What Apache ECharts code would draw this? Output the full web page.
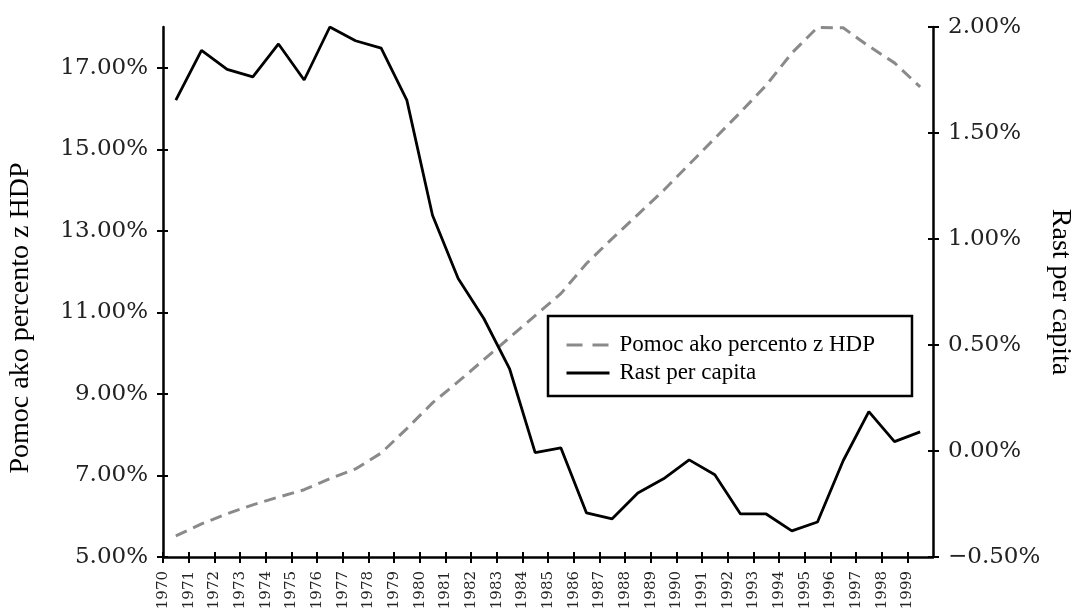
<!DOCTYPE html>
<html>
<head>
<meta charset="utf-8">
<script src="https://cdn.jsdelivr.net/npm/echarts@6/dist/echarts.min.js"></script>
<style>
html, body { margin: 0; padding: 0; background: #fff; }
#chart { width: 1073px; height: 614px; }
</style>
</head>
<body>
<div id="chart"></div>
<script>
// roky (kategórie)
const years = [1970, 1971, 1972, 1973, 1974, 1975, 1976, 1977, 1978, 1979,
  1980, 1981, 1982, 1983, 1984, 1985, 1986, 1987, 1988, 1989,
  1990, 1991, 1992, 1993, 1994, 1995, 1996, 1997, 1998, 1999]

// pomoc ako percento z HDP (lavá os)
const aidShare = [5.52, 5.81, 6.06, 6.28, 6.47, 6.65, 6.92, 7.16, 7.55, 8.15,
  8.78, 9.30, 9.84, 10.38, 10.92, 11.46, 12.20, 12.81, 13.40, 13.99,
  14.63, 15.27, 15.91, 16.57, 17.36, 17.99, 17.98, 17.53, 17.12, 16.53]

// rast per capita (pravá os)
const growth = [1.655, 1.89, 1.80, 1.765, 1.92, 1.75, 2.0, 1.935, 1.90, 1.655,
  1.112, 0.814, 0.625, 0.389, -0.008, 0.015, -0.292, -0.32, -0.198, -0.131,
  -0.042, -0.112, -0.297, -0.297, -0.377, -0.335, -0.046, 0.186, 0.044, 0.09]

const leftTicks = [5, 7, 9, 11, 13, 15, 17]
const rightTicks = [-0.5, 0, 0.5, 1, 1.5, 2]

const aidName = 'Pomoc ako percento z HDP'
const growthName = 'Rast per capita'

const labelFont = 'DejaVu Serif'
const textFont = 'Liberation Serif'

function pct(v) {
  const s = Math.abs(v).toFixed(2) + '%'
  return v < 0 ? '\u2212' + s : s
}

const chart = echarts.init(document.getElementById('chart'), null, { renderer: 'canvas' })

chart.setOption({
  animation: false,
  backgroundColor: '#fff',
  grid: { left: 163, right: 140, top: 27, bottom: 57, containLabel: false, outerBoundsMode: 'none' },
  legend: {
    left: 548,
    top: 316,
    orient: 'vertical',
    itemWidth: 43,
    itemHeight: 14,
    itemGap: 0,
    padding: [15, 37, 9, 17],
    borderColor: '#000',
    borderWidth: 2.5,
    itemStyle: { opacity: 0 },
    textStyle: { fontFamily: textFont, fontSize: 23, color: '#000', lineHeight: 28, padding: [0, 0, 0, 5] },
    data: [
      { name: aidName, lineStyle: { type: [16, 10], width: 3 } },
      { name: growthName, lineStyle: { width: 3 } }
    ]
  },
  xAxis: [
    {
      type: 'category',
      data: years.map(String),
      boundaryGap: true,
      position: 'bottom',
      axisLine: { onZero: false },
      show: false
    },
    {
      type: 'value',
      position: 'bottom',
      min: years[0],
      max: years[years.length - 1] + 1,
      axisLine: { show: true, onZero: false, lineStyle: { color: '#000', width: 2.5 } },
      axisTick: { show: true, length: 6, customValues: years, lineStyle: { color: '#000', width: 2 } },
      axisLabel: {
        customValues: years,
        rotate: 90,
        margin: 14,
        fontFamily: labelFont,
        fontSize: 15,
        color: '#222',
        formatter: v => String(v)
      },
      splitLine: { show: false }
    },
    {
      type: 'value',
      position: 'bottom',
      min: years[0],
      max: years[years.length - 1] + 1,
      axisLine: { show: false, onZero: false },
      axisTick: { show: true, inside: true, length: 5, customValues: years, lineStyle: { color: '#000', width: 2 } },
      axisLabel: { show: false },
      splitLine: { show: false }
    }
  ],
  yAxis: [
    {
      type: 'value',
      position: 'left',
      min: 5,
      max: 18,
      name: aidName,
      nameLocation: 'middle',
      nameGap: 128,
      nameMoveOverlap: false,
      nameTextStyle: { fontFamily: textFont, fontSize: 28, color: '#000', padding: [0, 52, 0, 0] },
      axisLine: { show: true, onZero: false, lineStyle: { color: '#000', width: 2.5 } },
      axisTick: { show: true, length: 6, customValues: leftTicks, lineStyle: { color: '#000', width: 2 } },
      axisLabel: {
        customValues: leftTicks,
        margin: 15,
        fontFamily: labelFont,
        fontSize: 23,
        color: '#222',
        formatter: v => pct(v)
      },
      splitLine: { show: false }
    },
    {
      type: 'value',
      position: 'right',
      min: rightTicks[0],
      max: rightTicks[rightTicks.length - 1],
      interval: 0.5,
      name: growthName,
      nameLocation: 'middle',
      nameRotate: -90,
      nameGap: 113,
      nameMoveOverlap: false,
      nameTextStyle: { fontFamily: textFont, fontSize: 28, color: '#000' },
      axisLine: { show: true, onZero: false, lineStyle: { color: '#000', width: 2.5 } },
      axisTick: { show: true, length: 6, lineStyle: { color: '#000', width: 2 } },
      axisLabel: {
        margin: 15,
        fontFamily: labelFont,
        fontSize: 23,
        color: '#222',
        formatter: v => pct(v)
      },
      splitLine: { show: false }
    },
    {
      type: 'value',
      position: 'left',
      min: 5,
      max: 18,
      axisLine: { show: false, onZero: false },
      axisTick: { show: true, inside: true, length: 5, customValues: leftTicks, lineStyle: { color: '#000', width: 2 } },
      axisLabel: { show: false },
      splitLine: { show: false }
    },
    {
      type: 'value',
      position: 'right',
      min: rightTicks[0],
      max: rightTicks[rightTicks.length - 1],
      interval: 0.5,
      axisLine: { show: false, onZero: false },
      axisTick: { show: true, inside: true, length: 5, lineStyle: { color: '#000', width: 2 } },
      axisLabel: { show: false },
      splitLine: { show: false }
    }
  ],
  series: [
    {
      name: aidName,
      type: 'line',
      xAxisIndex: 0,
      yAxisIndex: 0,
      data: aidShare,
      symbol: 'none',
      lineStyle: { color: '#8a8a8a', width: 3, type: [12, 7] },
      itemStyle: { color: '#8a8a8a' }
    },
    {
      name: growthName,
      type: 'line',
      xAxisIndex: 0,
      yAxisIndex: 1,
      data: growth,
      symbol: 'none',
      lineStyle: { color: '#000', width: 2.8 },
      itemStyle: { color: '#000' }
    }
  ]
})
</script>
</body>
</html>
